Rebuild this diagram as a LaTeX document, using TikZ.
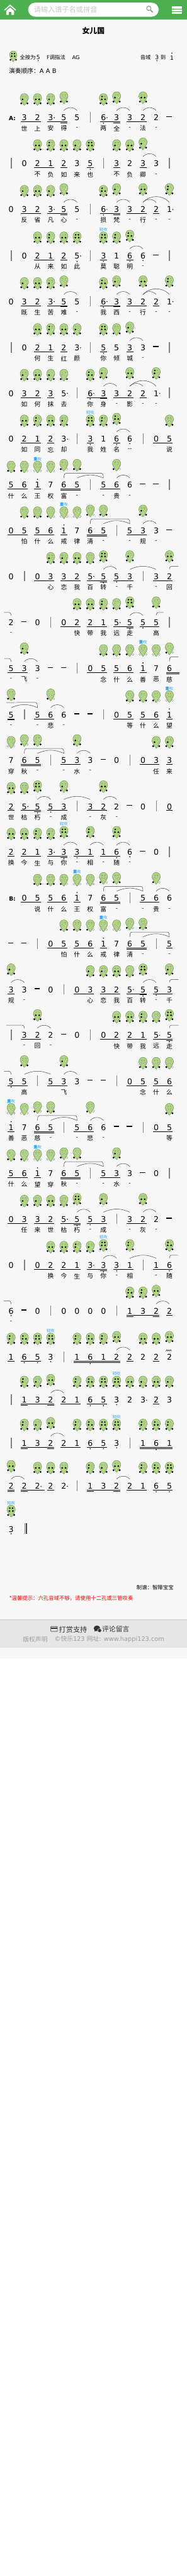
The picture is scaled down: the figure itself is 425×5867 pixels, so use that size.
\documentclass[tikz,border=0pt]{standalone}
\usepackage{fontspec}
\setmainfont{DejaVu Sans}
\newfontfamily\cjk{Noto Sans CJK SC}
\usetikzlibrary{calc}
\definecolor{pagegrey}{HTML}{F7F7F7}
\definecolor{bandgrey}{HTML}{E6E6E6}
\definecolor{headgreen}{HTML}{4CAF50}
\definecolor{froggreen}{HTML}{AFD97C}
\definecolor{frogedge}{HTML}{5F7F4F}
\definecolor{tipblue}{HTML}{1E9FFF}

% finger holes: top pair, middle pair, thumb pair
\newcommand{\holeat}[4]{\ifnum#4=1 \fill[holeon] (#1,#2) circle ({max(#3,2)});\else \draw[holeoff] (#1,#2) circle (#3);\fi}
\newcommand{\holes}[6]{%
  \holeat{-3.2}{-6.8}{1.6}{#1}\holeat{3.2}{-6.8}{1.6}{#2}%
  \holeat{-3.8}{-13.3}{2.2}{#3}\holeat{3.8}{-13.3}{2.2}{#4}%
  \holeat{-6.9}{-22.3}{2.4}{#5}\holeat{6.9}{-22.3}{2.4}{#6}}
\def\fgS{\holes111111}
\def\fgL{\holes101111}
\def\fgM{\holes111111\node[frogtip] (tip) at (0,5) {轻吹};}
\def\fgd{\holes101011}
\def\fgr{\holes001111}
\def\fgm{\holes001011}
\def\fgs{\holes000011}
\def\fgl{\holes000010}
\def\fgD{\holes000000\node[frogtip] (tip) at (0,5) {{\bfseries 重}吹};}
\def\fgt{\holes000000}

\newcommand{\frogat}[4][]{%
  \begin{scope}[shift={(#2,#3)},#1]
    \draw[frogbody] (0,0) .. controls (6,0) and (9.5,-5) .. (9.5,-11)
      .. controls (9.5,-16) and (5,-18.5) .. (3.6,-21)
      .. controls (3,-23) and (2,-27) .. (0,-27)
      .. controls (-2,-27) and (-3,-23) .. (-3.6,-21)
      .. controls (-5,-18.5) and (-9.5,-16) .. (-9.5,-11)
      .. controls (-9.5,-5) and (-6,0) .. (0,0) -- cycle;
    \csname fg#4\endcsname
  \end{scope}}

% dots on a note
\newcommand{\nmodx}[1]{}
\newcommand{\nmodd}[1]{\fill[notedot] (#1) ++(0,-12.5) circle (1.3);}
\newcommand{\nmodg}[1]{\fill[notedot] (#1) ++(0,-14.5) circle (1.3);}
\newcommand{\nmodb}[1]{\fill[notedot] (#1) ++(0,-10.2) circle (1.3);}
\newcommand{\nmodu}[1]{\fill[notedot] (#1) ++(0,13.3) circle (1.3);}
\newcommand{\nmoda}[1]{\fill[notedot] (#1) ++(8,0) circle (1.2);}
\newcommand{\nmode}[1]{\nmoda{#1}\nmodd{#1}}

% ties: a short, f flat, h high, s bracket, o/O open end, c/C closing end
\newcommand{\tiea}[4]{\draw[tiearc] (n#1-#3.north) to[out=50,in=130] (n#1-#4.north);}
\newcommand{\tief}[4]{\draw[tiearc] (n#1-#3.north) to[out=24,in=156] (n#1-#4.north);}
\newcommand{\tieh}[4]{\draw[tiearc] (n#1-#3.north) to[out=48,in=132] (n#1-#4.north);}
\newcommand{\ties}[4]{\draw[tiearc,rounded corners=4pt] (n#1-#3.north) -- ++(1,11) -- ($(n#1-#4.north)+(-1,11)$) -- (n#1-#4.north);}
\newcommand{\tieo}[4]{\coordinate (free) at (#4,-#2+23); \draw[tiearc,rounded corners=4pt] (n#1-#3.north) -- ++(1,7) -- (free);}
\newcommand{\tieO}[4]{\coordinate (free) at (#4,-#2+27); \draw[tiearc,rounded corners=4pt] (n#1-#3.north) -- ++(1,11) -- (free);}
\newcommand{\tiec}[4]{\coordinate (free) at (#3,-#2+23); \draw[tiearc,rounded corners=4pt] (free) -- ($(n#1-#4.north)+(-1,7)$) -- (n#1-#4.north);}
\newcommand{\tieC}[4]{\coordinate (free) at (#3,-#2+28); \draw[tiearc,rounded corners=4pt] (free) -- ($(n#1-#4.north)+(-1,12)$) -- (n#1-#4.north);}

% id, y, notes, long dashes, bars, beams, ties, lyrics, frogs
\newcommand{\staffrow}[9]{%
  \foreach \cl/\dg/\mk in {#3} {
    \node[notenum] (n#1-\cl) at ({25.3+30*\cl},-#2) {\dg};
    \csname nmod\mk\endcsname{n#1-\cl}
  }
  \foreach \cl in {#4}
    \node[restbar] (r#1-\cl) at ({24.6+30*\cl},-#2+2.5) {};
  \foreach \cl in {#5}
    \draw[barline] ({25.6+30*\cl},-#2+13) -- ({25.6+30*\cl},-#2-11);
  \foreach \ba/\bb/\lv in {#6}
    \draw[beam] ({25.3+30*\ba-7.8},{-#2-6.3-2.7*\lv}) -- ({25.3+30*\bb+7.8},{-#2-6.3-2.7*\lv});
  \foreach \ta/\tb/\tk in {#7}
    \csname tie\tk\endcsname{#1}{#2}{\ta}{\tb};
  \foreach \cl/\lw in {#8}
    \node[lyric] (l#1-\cl) at ({25.3+30*\cl},-#2-24.5) {\lw};
  \foreach \cl/\fg/\rz in {#9}
    \frogat{{25.3+30*\cl}}{{-#2+55+4*\rz}}{\fg};
}

\begin{document}
\begin{tikzpicture}[x=1pt,y=1pt,
  notenum/.style={inner sep=0pt, minimum height=32pt, minimum width=15pt, text height=13pt, text depth=0pt,
             font=\fontsize{18}{18}\selectfont},
  restbar/.style={fill=black, inner sep=0pt, minimum width=12pt, minimum height=2pt},
  lyric/.style={inner sep=0pt, font=\cjk\fontsize{14}{14}\selectfont},
  beam/.style={line width=0.9pt, black},
  tiearc/.style={line width=0.7pt, black!75},
  barline/.style={line width=2.1pt, black!50},
  notedot/.style={black},
  frogbody/.style={fill=froggreen, draw=frogedge, line width=0.6pt},
  holeon/.style={black},
  holeoff/.style={fill=white, draw=black!55, line width=0.4pt},
  frogtip/.style={inner sep=0pt, text=tipblue, font=\cjk\fontsize{9}{9}\selectfont},
  infotext/.style={inner sep=0pt, anchor=west, font=\cjk\fontsize{12}{12}\selectfont},
  infonum/.style={inner sep=0pt, font=\fontsize{13}{13}\selectfont},
]
\useasboundingbox (0,0) rectangle (425,-5867);
\fill[white] (0,0) rectangle (425,-5867);
\fill[pagegrey] (0,0) rectangle (425,-3777);

% top bar
\fill[headgreen] (0,0) rectangle (425,-45);
\draw[white,line width=2.4pt] (10.5,-23) -- (23,-12) -- (35.5,-23);
\fill[white] (14,-25) -- (23,-17) -- (32,-25) -- (32,-34) -- (26,-34) -- (26,-27) -- (20,-27) -- (20,-34) -- (14,-34) -- cycle;
\fill[white,rounded corners=16pt] (64,-6) rectangle (361,-38);
\node[inner sep=0pt, anchor=west, text=black!22, font=\cjk\fontsize{16}{16}\selectfont] (searchtext) at (77,-22) {请输入谱子名或拼音};
\draw[black!45,line width=1.4pt] (338.5,-19) circle (5);
\draw[black!45,line width=2.4pt] (342.5,-23) -- (347.5,-28);
\fill[white] (390.5,-14) rectangle (414,-20);
\fill[white] (390.5,-20.8) rectangle (414,-26);
\fill[white] (390.5,-26.8) rectangle (414,-32);

\node[inner sep=0pt, font=\cjk\bfseries\fontsize{17}{17}\selectfont] (title) at (212.5,-70) {女儿国};

% info lines
\frogat[scale=0.9]{30}{-116}{S}
\node[infotext] (allclosed) at (45,-130.5) {全按为};
\node[infonum] (lowfive) at (87,-130.5) {5};
\fill[notedot] (lowfive) ++(0,-7.5) circle (1.2);
\node[infotext] (keyname) at (106,-130.5) {F调指法};
\node[infotext, font=\fontsize{12}{12}\selectfont] (keyag) at (164,-130.5) {AG};
\node[infotext] (rangename) at (319,-130.5) {音域};
\node[infonum] (rangelow) at (357,-130.5) {3};
\fill[notedot] (rangelow) ++(0,-7.5) circle (1.2);
\node[infotext] (rangeto) at (365,-130.5) {到};
\node[infonum] (rangehigh) at (391,-131.5) {1};
\fill[notedot] (rangehigh) ++(0,10.5) circle (1.2);
\node[infotext, font=\cjk\fontsize{14}{14}\selectfont] (order) at (20,-162) {演奏顺序：{\normalfont A\,\,A\,\,B}};

\node[inner sep=0pt, font=\bfseries\fontsize{13}{13}\selectfont] (parta) at (28,-270) {A:};
\node[inner sep=0pt, font=\bfseries\fontsize{13}{13}\selectfont] (partb) at (28,-2047) {B:};

\staffrow{1}{268}{1/3/x,2/2/x,3/3/a,4/5/x,5/5/x,7/6/e,8/3/x,9/3/x,10/2/x,11/2/x}{12}{6}
  {1/2/1,3/4/1,4/4/2,7/8/1,8/8/2,9/10/1}{4/5/a,8/9/a,10/11/a}
  {1/世,2/上,3/安,4/得,5/-,7/两,8/全,9/-,10/法,11/-}
  {1/m/0,2/r/0,3/m/0,4/s/1,7/L/0,8/m/1,10/r/1}
\staffrow{2}{373}{1/0/x,2/2/x,3/1/x,4/2/x,5/3/x,6/5/d,8/3/x,9/2/x,10/3/x,11/3/x}{}{0,7,12}
  {2/3/1,4/4/1,6/6/1,8/8/1,10/10/1}{10/11/a}
  {2/不,3/负,4/如,5/来,6/也,8/不,9/负,10/卿,11/-}
  {2/r/0,3/d/0,4/r/0,5/m/0,6/S/0,8/m/0,9/r/0,10/m/1}
\staffrow{3}{477}{0/0/x,1/3/x,2/2/x,3/3/a,4/5/x,5/5/x,7/6/e,8/3/x,9/3/x,10/2/x,11/2/x,12/1/a}{}{6}
  {1/2/1,3/4/1,4/4/2,7/8/1,8/8/2,9/10/1,11/11/1}{4/5/a,8/9/a,10/11/a,10/12/h}
  {1/反,2/省,3/凡,4/心,5/-,7/损,8/梵,9/-,10/行,11/-,12/-}
  {1/m/0,2/r/0,3/m/0,4/s/1,7/L/0,8/m/1,10/r/1,12/d/1}
\staffrow{4}{583}{1/0/x,2/2/x,3/1/x,4/2/x,5/5/e,7/3/d,8/1/x,9/6/d,10/6/b}{11}{0,6,12}
  {2/3/1,4/4/1,7/7/1,9/9/1}{9/10/a}
  {2/从,3/来,4/如,5/此,7/莫,8/聪,9/明,10/-}
  {2/r/0,3/d/0,4/r/0,5/S/0,7/M/0,8/d/0,9/L/1}
\staffrow{5}{687}{0/0/x,1/3/x,2/2/x,3/3/a,4/5/x,5/5/x,7/6/e,8/3/x,9/3/x,10/2/x,11/2/x,12/1/a}{}{6}
  {1/2/1,3/4/1,4/4/2,7/8/1,8/8/2,9/10/1,11/11/1}{4/5/a,8/9/a,10/11/a,10/12/h}
  {1/既,2/生,3/苦,4/难,5/-,7/我,8/西,9/-,10/行,11/-,12/-}
  {1/m/0,2/r/0,3/m/0,4/s/1,7/L/0,8/m/1,10/r/1,12/d/1}
\staffrow{6}{792}{1/0/x,2/2/x,3/1/x,4/2/x,5/3/a,7/5/d,8/5/x,9/3/x,10/3/x}{11}{0,6,12}
  {2/3/1,4/4/1,7/7/1,9/9/1}{9/10/a}
  {2/何,3/生,4/红,5/颜,7/你,8/倾,9/城,10/-}
  {2/r/0,3/d/0,4/r/0,5/m/0,7/S/0,8/s/0,9/m/1}
\staffrow{7}{896}{0/0/x,1/3/x,2/2/x,3/3/x,4/5/a,6/6/e,7/3/x,8/3/x,9/2/x,10/2/x,11/1/a}{}{5,12}
  {1/2/1,3/3/1,6/7/1,7/7/2,8/9/1,10/10/1}{7/8/a,9/10/a,9/11/h}
  {1/如,2/何,3/抹,4/去,6/你,7/身,8/-,9/影,10/-,11/-}
  {1/m/0,2/r/0,3/m/0,4/s/0,6/L/0,7/m/1,9/r/1,11/d/1}
\staffrow{8}{1000}{0/0/x,1/2/x,2/1/x,3/2/x,4/3/a,6/3/d,7/1/x,8/6/d,9/6/b,11/0/x,12/5/x}{}{5,10}
  {1/2/1,3/3/1,6/6/1,8/8/1,11/12/1}{8/9/a}
  {1/如,2/同,3/忘,4/却,6/我,7/姓,8/名,9/--,12/说}
  {1/r/0,2/d/0,3/r/0,4/m/0,6/M/0,7/d/0,8/L/1,12/s/0}
\staffrow{9}{1105}{0/5/x,1/6/x,2/1/u,3/7/x,4/6/x,5/5/x,7/5/x,8/6/x,9/6/x}{10,11}{6,12}
  {0/1/1,2/2/1,4/5/1,4/5/2,7/8/1}{4/7/s,5/7/f,8/9/a}
  {0/什,1/么,2/王,3/权,4/富,5/-,7/-,8/贵,9/-}
  {0/s/0,1/l/0,2/D/0,3/t/0,4/l/1,5/s/1,8/l/1}
\staffrow{10}{1209}{0/0/x,1/5/x,2/5/x,3/6/x,4/1/u,5/7/x,6/6/x,7/5/x,9/5/x,10/3/x,11/3/x}{12}{8}
  {0/1/1,2/3/1,4/4/1,6/7/1,6/7/2,9/10/1}{6/9/s,7/9/f,10/11/a}
  {1/怕,2/什,3/么,4/戒,5/律,6/清,7/-,9/-,10/规,11/-}
  {1/s/0,2/s/0,3/l/0,4/D/0,5/t/0,6/l/1,7/s/1,10/m/1}
\staffrow{11}{1313}{0/0/x,2/0/x,3/3/x,4/3/x,5/2/x,6/5/a,7/5/g,8/5/d,9/3/x,11/3/x,12/2/x}{}{1,10}
  {2/3/1,4/5/1,6/7/1,7/7/2,8/9/1,11/12/1}{7/8/a,9/11/f,12/406/o}
  {3/心,4/恋,5/我,6/百,7/转,8/-,9/千,11/-,12/回}
  {3/m/0,4/m/0,5/r/0,6/s/0,7/S/1,9/m/1,12/r/1}
\staffrow{12}{1418}{0/2/x,2/0/x,4/0/x,5/2/x,6/2/x,7/1/x,8/5/a,9/5/g,10/5/d,11/5/x}{1}{3,12}
  {4/5/1,6/7/1,8/9/1,9/9/2,10/11/1}{9/0/c,9/10/a,11/372/o}
  {0/-,5/快,6/带,7/我,8/远,9/走,11/高}
  {5/r/0,6/r/0,7/d/0,8/s/0,9/S/1,11/s/1}
\staffrow{13}{1523}{0/5/x,1/3/x,2/3/x,6/0/x,7/5/x,8/5/x,9/6/x,10/1/u,11/7/x,12/6/x}{3,4}{5}
  {0/1/1,6/7/1,8/9/1,10/10/1,12/12.5/1,12/12.5/2}{10/0/c,1/2/a,12/406/O}
  {0/-,1/飞,2/-,7/念,8/什,9/么,10/善,11/恶,12/慈}
  {1/m/1,7/s/0,8/s/0,9/l/0,10/D/0,11/t/0,12/l/1}
\staffrow{14}{1628}{0/5/x,2/5/x,3/6/x,4/6/x,8/0/x,9/5/x,10/5/x,11/6/x,12/1/u}{5,6}{1,7}
  {0/0/1,0/0/2,2/3/1,8/9/1,10/11/1,12/12/1}{14/2/C,0/2/f,3/4/a}
  {0/-,2/-,3/悲,4/-,9/等,10/什,11/么,12/望}
  {0/s/1,3/l/1,9/s/0,10/s/0,11/l/0,12/D/0}
\staffrow{15}{1732}{0/7/x,1/6/x,2/5/x,4/5/x,5/3/x,6/3/x,8/0/x,10/0/x,11/3/x,12/3/x}{7}{3,9}
  {1/2/1,1/2/2,4/5/1,10/11/1,12/12/1}{1/4/s,2/4/f,5/6/a}
  {0/穿,1/秋,2/-,4/-,5/水,6/-,11/任,12/来}
  {0/t/0,1/l/1,2/s/1,5/m/1,11/m/0,12/m/0}
\staffrow{16}{1837}{0/2/x,1/5/a,2/5/g,3/5/d,4/3/x,6/3/x,7/2/x,8/2/x,10/0/x,12/0/x}{9}{5,11}
  {0/0/1,1/2/1,2/2/2,3/4/1,6/7/1,12/12/1}{2/3/a,4/6/f,7/8/a}
  {0/世,1/枯,2/朽,3/-,4/成,6/-,7/灰,8/-}
  {0/r/0,1/s/0,2/S/1,4/m/1,7/r/1}
\staffrow{17}{1941}{0/2/x,1/2/x,2/1/x,3/3/a,4/3/g,5/3/d,6/1/x,7/1/x,8/6/d,9/6/b,11/0/x}{10}{12}
  {0/0/1,1/2/1,3/4/1,4/4/2,5/6/1,7/8/1}{4/5/a,6/7/a,8/9/a}
  {0/换,1/今,2/生,3/与,4/你,5/-,6/相,7/-,8/随,9/-}
  {0/r/0,1/r/0,2/d/0,3/m/0,4/M/1,6/d/1,8/L/1}
\staffrow{18}{2046}{1/0/x,2/5/x,3/5/x,4/6/x,5/1/u,6/7/x,7/6/x,8/5/x,10/5/x,11/6/x,12/6/x}{}{9}
  {1/2/1,3/4/1,5/5/1,7/8/1,7/8/2,10/11/1}{7/10/s,8/10/f,11/12/a}
  {2/说,3/什,4/么,5/王,6/权,7/富,8/-,10/-,11/贵,12/-}
  {2/s/0,3/s/0,4/l/0,5/D/0,6/t/0,7/l/1,8/s/1,11/l/1}
\staffrow{19}{2150}{3/0/x,4/5/x,5/5/x,6/6/x,7/1/u,8/7/x,9/6/x,10/5/x,12/5/x}{0,1}{2,11}
  {3/4/1,5/6/1,7/7/1,9/10/1,9/10/2,12/12/1}{9/12/s,10/12/f}
  {4/怕,5/什,6/么,7/戒,8/律,9/清,10/-,12/-}
  {4/s/0,5/s/0,6/l/0,7/D/0,8/t/0,9/l/1,10/s/1}
\staffrow{20}{2254}{0/3/x,1/3/x,3/0/x,5/0/x,6/3/x,7/3/x,8/2/x,9/5/a,10/5/g,11/5/d,12/3/x}{2}{4}
  {0/0/1,5/6/1,7/8/1,9/10/1,10/10/2,11/12/1}{0/1/a,10/11/a,12/406/o}
  {0/规,1/-,6/心,7/恋,8/我,9/百,10/转,11/-,12/千}
  {0/m/1,6/m/0,7/m/0,8/r/0,9/s/0,10/S/1,12/m/1}
\staffrow{21}{2358}{1/3/x,2/2/x,3/2/x,5/0/x,7/0/x,8/2/x,9/2/x,10/1/x,11/5/a,12/5/g}{4}{0,6}
  {1/2/1,7/8/1,9/10/1,11/12/1,12/12/2}{14/1/c,2/3/a,12/406/o}
  {1/-,2/回,3/-,8/快,9/带,10/我,11/远,12/走}
  {2/r/1,8/r/0,9/r/0,10/d/0,11/s/0,12/S/1}
\staffrow{22}{2463}{0/5/d,1/5/x,3/5/x,4/3/x,5/3/x,9/0/x,10/5/x,11/5/x,12/6/x}{6,7}{2,8}
  {0/1/1,3/4/1,9/10/1,11/12/1}{9/0/c,1/3/f,4/5/a}
  {1/高,4/飞,10/念,11/什,12/么}
  {1/s/1,4/m/1,10/s/0,11/s/0,12/l/0}
\staffrow{23}{2568}{0/1/u,1/7/x,2/6/x,3/5/x,5/5/x,6/6/x,7/6/x,11/0/x,12/5/x}{8,9}{4,10}
  {0/0/1,2/3/1,2/3/2,5/6/1,11/12/1}{2/5/s,3/5/f,6/7/a}
  {0/善,1/恶,2/慈,3/-,5/-,6/悲,7/-,12/等}
  {0/D/0,1/t/0,2/l/1,3/s/1,6/l/1,12/s/0}
\staffrow{24}{2673}{0/5/x,1/6/x,2/1/u,3/7/x,4/6/x,5/5/x,7/5/x,8/3/x,9/3/x,11/0/x}{10}{6,12}
  {0/1/1,2/2/1,4/5/1,4/5/2,7/8/1}{4/7/s,5/7/f,8/9/a}
  {0/什,1/么,2/望,3/穿,4/秋,5/-,7/-,8/水,9/-}
  {0/s/0,1/l/0,2/D/0,3/t/0,4/l/1,5/s/1,8/m/1}
\staffrow{25}{2777}{0/0/x,1/3/x,2/3/x,3/2/x,4/5/a,5/5/g,6/5/d,7/3/x,9/3/x,10/2/x,11/2/x}{12}{8}
  {0/1/1,2/3/1,4/5/1,5/5/2,6/7/1,9/10/1}{5/6/a,7/9/f,10/11/a}
  {1/任,2/来,3/世,4/枯,5/朽,6/-,7/成,9/-,10/灰,11/-}
  {1/m/0,2/m/0,3/r/0,4/s/0,5/S/1,7/m/1,10/r/1}
\staffrow{26}{2882}{0/0/x,2/0/x,3/2/x,4/2/x,5/1/x,6/3/a,7/3/g,8/3/d,9/1/x,11/1/x,12/6/d}{}{1,10}
  {2/3/1,4/5/1,6/7/1,7/7/2,8/9/1,11/12/1}{7/8/a,9/11/f,12/406/o}
  {3/换,4/今,5/生,6/与,7/你,8/-,9/相,11/-,12/随}
  {3/r/0,4/r/0,5/d/0,6/m/0,7/M/1,9/d/1,12/L/1}
\staffrow{27}{2986}{0/6/b,2/0/x,4/0/x,5/0/x,6/0/x,7/0/x,9/1/x,10/3/x,11/2/x,12/2/x}{1}{3,8}
  {9/11/1,9/9/2,11/11/2,12/12/1}{9/0/c,11/12/a}
  {0/-}
  {9/L/0,10/d/0,11/r/1}
\staffrow{28}{3091}{0/1/x,1/6/d,2/5/d,3/3/b,5/1/x,6/6/g,7/1/x,8/2/x,9/2/x,10/2/x,11/2/x,12/2/x}{}{4}
  {0/0/1,1/2/1,5/8/1,5/8/2,9/9/1,11/11/1}{8/9/a}
  {}
  {0/d/0,1/L/0,2/S/0,3/M/0,5/d/0,6/L/0,7/d/0,8/r/1,10/r/0,11/r/0,12/r/1}
\draw[line width=0.7pt] ($(n28-12)+(-8,13.5)$) -- ++(2.6,3.4) -- ++(2,-3) -- ++(2.2,3) -- ++(2,-3) -- ++(2.2,3) -- ++(2,-3);
\staffrow{29}{3189}{1/1/x,2/3/x,3/2/x,4/2/x,5/1/x,6/6/d,7/5/d,8/3/b,9/2/x,10/3/a,11/2/x,12/3/x}{}{0}
  {1/3/1,1/1/2,3/3/2,4/5/1,6/7/1,11/11/1}{3/4/a}
  {}
  {1/d/0,2/m/0,3/r/1,5/d/0,6/L/0,7/S/0,8/M/0,9/r/0,10/m/0,11/r/0,12/m/0}
\staffrow{30}{3287}{1/1/x,2/3/x,3/2/x,4/2/x,5/1/x,6/6/d,7/5/d,8/3/b,10/1/x,11/6/g,12/1/x}{}{0,9}
  {1/3/1,1/1/2,3/3/2,4/5/1,6/7/1,10/12/1,10/12/2}{3/4/a}
  {}
  {1/d/0,2/m/0,3/r/1,5/d/0,6/L/0,7/S/0,8/M/0,10/d/0,11/L/0,12/d/0}
\staffrow{31}{3385}{0/2/x,1/2/x,2/2/a,3/2/x,4/2/a,6/1/x,7/3/x,8/2/x,9/2/x,10/1/x,11/6/d,12/5/d}{}{5}
  {0/0/1,0/0/2,1/2.3/1,1/1/2,3/3/1,6/8/1,6/6/2,8/8/2,9/10/1,11/12/1}{0/1/a,8/9/a}
  {}
  {0/r/1,2/r/0,3/r/0,4/r/0,6/d/0,7/m/0,8/r/1,10/d/0,11/L/0,12/S/0}
\staffrow{32}{3483}{0/3/b}{}{}{}{}{}{0/M/0}
\draw[barline] (56.2,-3469) -- (56.2,-3493);
\draw[line width=2.7pt, black!75] (60.7,-3469) -- (60.7,-3493);

% foot of the page
\node[infotext, anchor=east] (maker) at (395,-3615) {制谱：智障宝宝};
\node[infotext, text=red] (notice) at (21,-3640) {*温馨提示：六孔音域不够，请使用十二孔或三管吹奏};
\fill[bandgrey] (0,-3688) rectangle (425,-3753);
\draw[black!22,line width=1pt] (0,-3688.5) -- (425,-3688.5);
\draw[black!80,line width=1pt,rounded corners=1pt] (115.5,-3704.5) rectangle (130.5,-3715.5);
\fill[black!80] (115.5,-3707) rectangle (130.5,-3710);
\node[inner sep=0pt, anchor=west, text=black!80, font=\cjk\fontsize{16}{16}\selectfont] (tipping) at (134,-3711) {打赏支持};
\fill[black!80] (220.5,-3708.5) ellipse (7.4 and 6.4);
\fill[black!80] (214.5,-3716) -- (216,-3712) -- (219,-3714) -- cycle;
\fill[black!80,draw=bandgrey,line width=0.8pt] (226.5,-3713.5) circle (4.4);
\node[inner sep=0pt, anchor=west, text=black!80, font=\cjk\fontsize{15.5}{15.5}\selectfont] (comments) at (232,-3711) {评论留言};
\node[inner sep=0pt, anchor=west, text=black!38, font=\cjk\fontsize{14}{14}\selectfont] (rights) at (52,-3734) {版权声明};
\node[inner sep=0pt, anchor=west, text=black!38, font=\fontsize{14}{14}\selectfont] (siteline) at (124,-3734) {©{\cjk 快乐}123 {\cjk 网址}: www.happi123.com};
\end{tikzpicture}
\end{document}
